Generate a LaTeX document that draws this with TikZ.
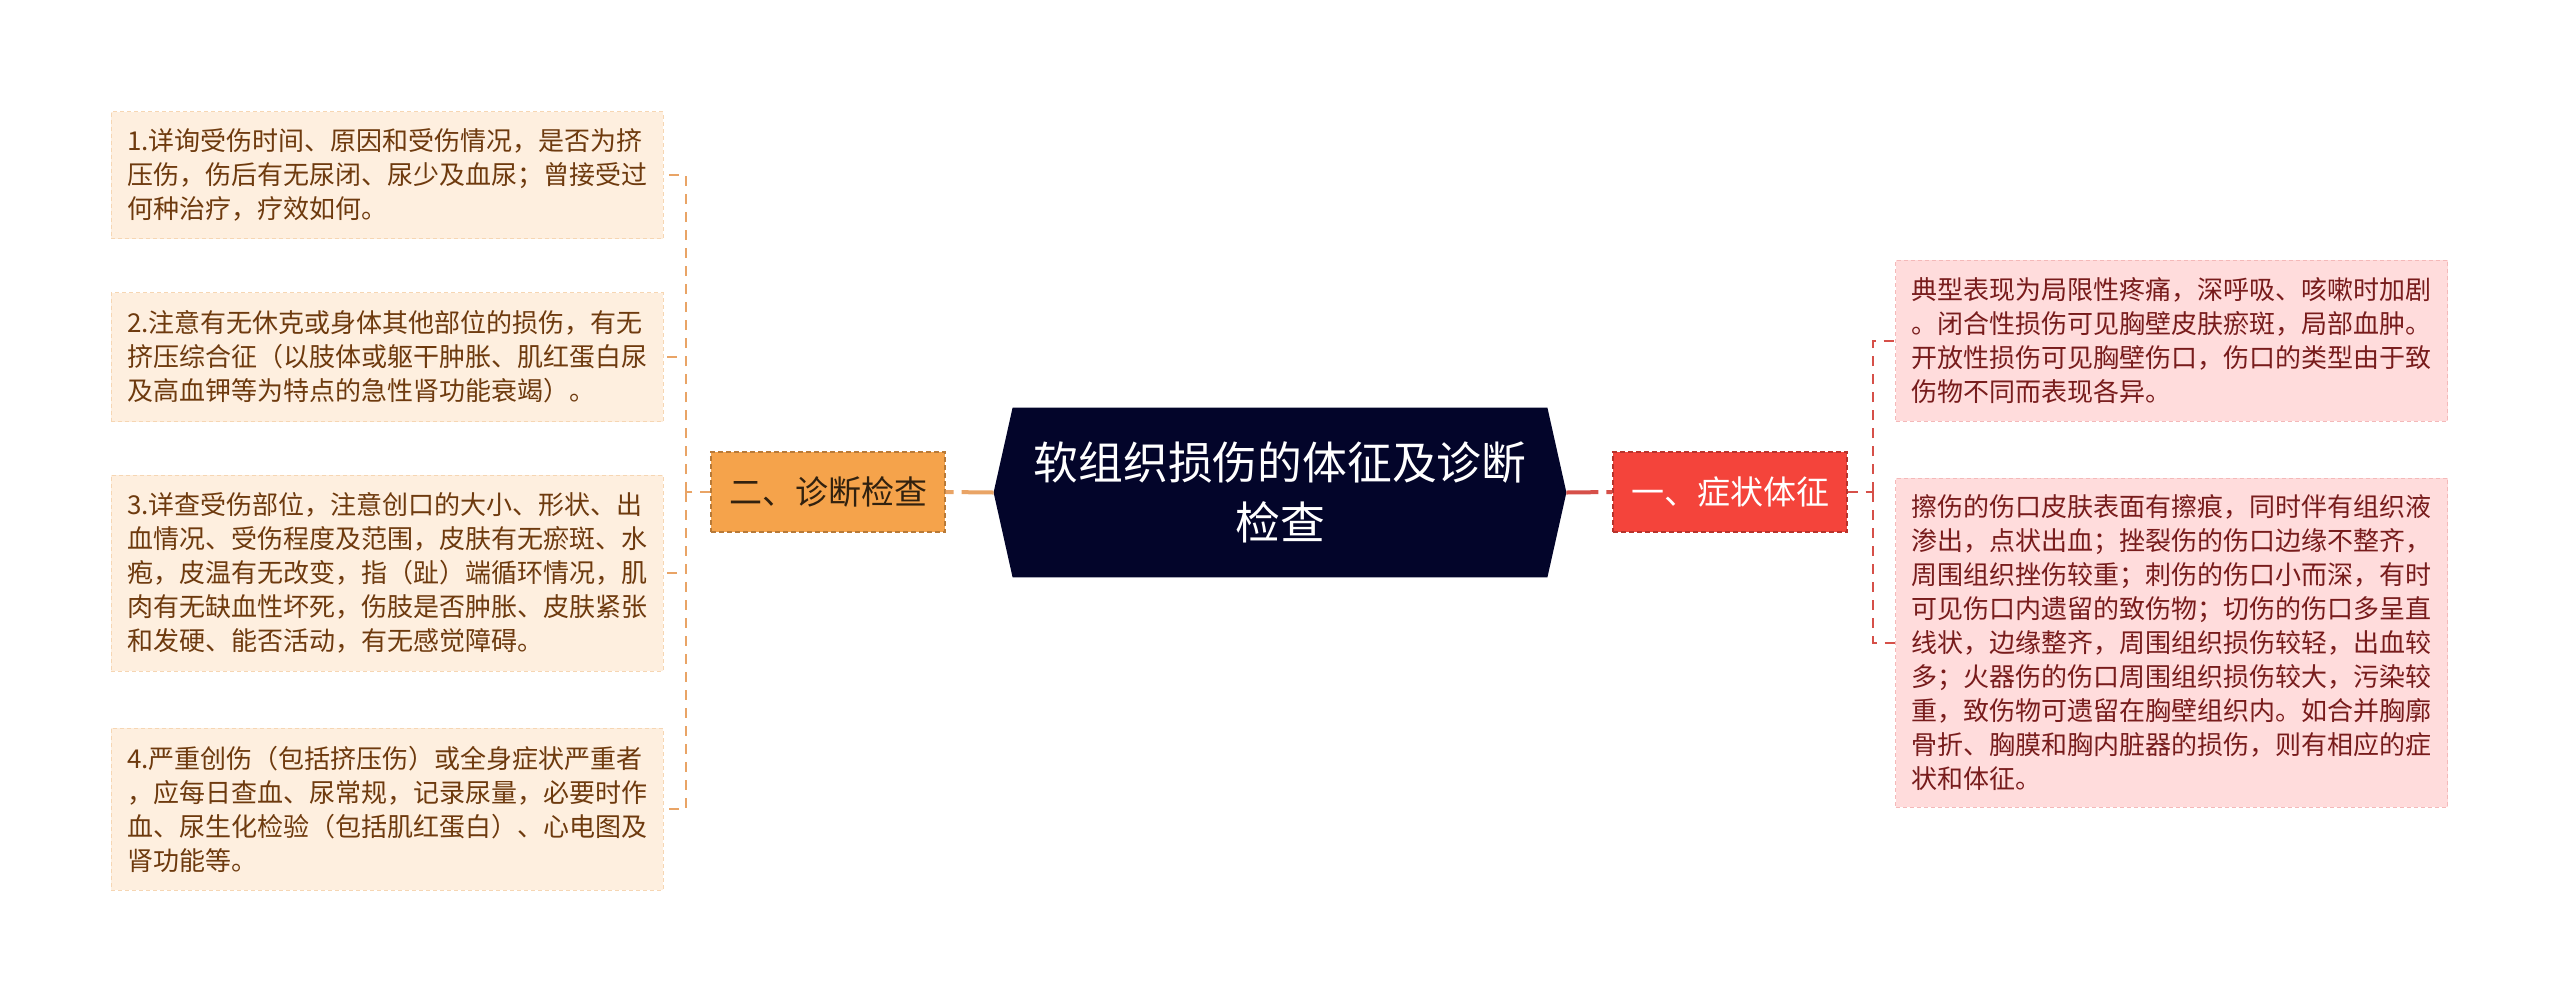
\documentclass[tikz,border=0pt]{standalone}
\usepackage{fontspec}
\setmainfont{Noto Sans CJK SC}
\usepackage{tikz}
\definecolor{rootbg}{HTML}{03052A}
\definecolor{orgbg}{HTML}{F5A34B}
\definecolor{orgln}{HTML}{E9A466}
\definecolor{redbg}{HTML}{F4443B}
\definecolor{redln}{HTML}{D65049}
\definecolor{lfill}{HTML}{FEEFDF}
\definecolor{lbord}{HTML}{F6D6B3}
\definecolor{ltext}{HTML}{6E3A0E}
\definecolor{rfill}{HTML}{FFDCDC}
\definecolor{rbord}{HTML}{F4B9B9}
\definecolor{rtext}{HTML}{781C1C}
\def\dx{19}

\tikzset{
  leafl/.style={fill=lfill, draw=lbord, dash pattern=on 2pt off 1.5pt, line width=0.5pt,
    text=ltext, align=left, text width=260pt, inner sep=0pt, minimum width=276pt,
    font=\fontsize{13}{17}\selectfont},
  leafr/.style={leafl, fill=rfill, draw=rbord, text=rtext},
  branch/.style={draw, dash pattern=on 2.5pt off 1.5pt, line width=0.7pt, inner sep=0pt,
    minimum width=117pt, minimum height=40pt, font=\fontsize{16.5}{20}\selectfont},
  link/.style={line width=2pt, dash pattern=on 16pt off 4pt},
  twig/.style={line width=1pt, dash pattern=on 5pt off 4pt}
}

\begin{document}
\begin{tikzpicture}[x=0.5pt,y=-0.5pt]
\useasboundingbox (0,0) rectangle (2560,1003);

% centre
\node[inner sep=0pt, minimum width=286pt, minimum height=84.5pt] (root) at (1280,492.5) {};
\fill[rootbg] (root.west) -- ([xshift=\dx*0.5pt]root.north west) -- ([xshift=-\dx*0.5pt]root.north east)
  -- (root.east) -- ([xshift=-\dx*0.5pt]root.south east) -- ([xshift=\dx*0.5pt]root.south west) -- cycle;
\node[text=white, align=center, font=\fontsize{22.4}{30}\selectfont] at (root) {软组织损伤的体征及诊断\\检查};

% branches
\node[branch, fill=orgbg, draw=orgbg!75!black, text=black!80!orgbg] (diag) at (828,492) {二、诊断检查};
\node[branch, fill=redbg, draw=redbg!75!black, text=white] (symp) at (1730,492) {一、症状体征};

% left leaves
\node[leafl, minimum height=63.5pt] (l1) at (387,175) {1.详询受伤时间、原因和受伤情况，是否为挤\\压伤，伤后有无尿闭、尿少及血尿；曾接受过\\何种治疗，疗效如何。};
\node[leafl, minimum height=64.5pt] (l2) at (387,357) {2.注意有无休克或身体其他部位的损伤，有无\\挤压综合征（以肢体或躯干肿胀、肌红蛋白尿\\及高血钾等为特点的急性肾功能衰竭）。};
\node[leafl, minimum height=98pt] (l3) at (387,573) {3.详查受伤部位，注意创口的大小、形状、出\\血情况、受伤程度及范围，皮肤有无瘀斑、水\\疱，皮温有无改变，指（趾）端循环情况，肌\\肉有无缺血性坏死，伤肢是否肿胀、皮肤紧张\\和发硬、能否活动，有无感觉障碍。};
\node[leafl, minimum height=81pt] (l4) at (387,809) {4.严重创伤（包括挤压伤）或全身症状严重者\\，应每日查血、尿常规，记录尿量，必要时作\\血、尿生化检验（包括肌红蛋白）、心电图及\\肾功能等。};

% right leaves
\node[leafr, minimum height=80.5pt] (r1) at (2171.5,340.5) {典型表现为局限性疼痛，深呼吸、咳嗽时加剧\\。闭合性损伤可见胸壁皮肤瘀斑，局部血肿。\\开放性损伤可见胸壁伤口，伤口的类型由于致\\伤物不同而表现各异。};
\node[leafr, minimum height=164.5pt] (r2) at (2171.5,642.5) {擦伤的伤口皮肤表面有擦痕，同时伴有组织液\\渗出，点状出血；挫裂伤的伤口边缘不整齐，\\周围组织挫伤较重；刺伤的伤口小而深，有时\\可见伤口内遗留的致伤物；切伤的伤口多呈直\\线状，边缘整齐，周围组织损伤较轻，出血较\\多；火器伤的伤口周围组织损伤较大，污染较\\重，致伤物可遗留在胸壁组织内。如合并胸廓\\骨折、胸膜和胸内脏器的损伤，则有相应的症\\状和体征。};

% connectors
\coordinate (lj) at (686,492);
\coordinate (rj) at (1873,492);
\draw[link, orgln] (root.west) -- (diag.east);
\draw[link, redln] (root.east) -- (symp.west);
\draw[twig, orgln] (diag.west) -- (lj);
\foreach \b in {l1,l2,l3,l4}{
  \draw[twig, orgln] (lj) |- (\b.east);
}
\draw[twig, redln] (symp.east) -- (rj);
\foreach \b in {r1,r2}{
  \draw[twig, redln] (rj) |- (\b.west);
}
\end{tikzpicture}
\end{document}
